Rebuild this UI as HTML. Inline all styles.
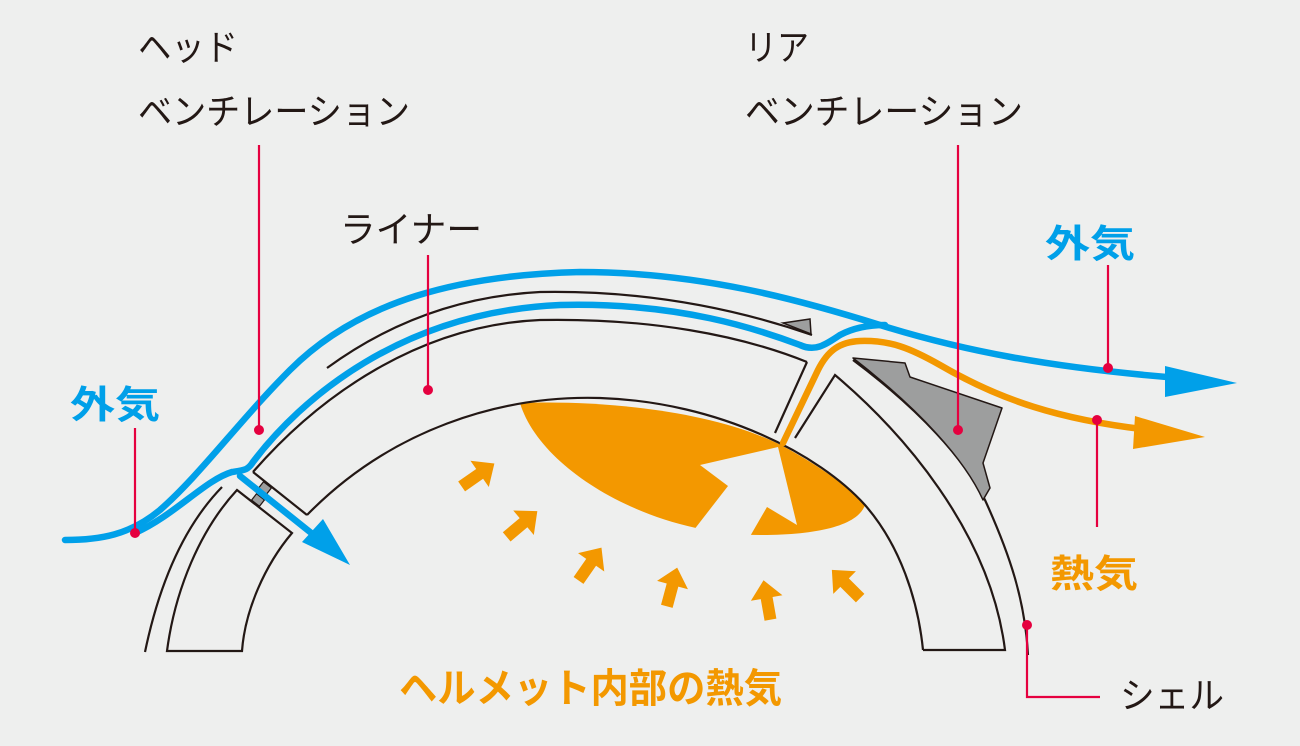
<!DOCTYPE html>
<html><head><meta charset="utf-8"><style>
html,body{margin:0;padding:0;background:#eeefee;}
svg{display:block;}
text{font-family:"Liberation Sans","Noto Sans CJK JP",sans-serif;}
</style></head><body>
<svg width="1300" height="746" viewBox="0 0 1300 746" xmlns="http://www.w3.org/2000/svg">
<rect width="1300" height="746" fill="#eeefee"/>

<path d="M520,403 C600,400 720,410 790,450 C825,470 850,488 865,505 C858,525 820,535 760,535 C650,535 540,470 520,403 Z" fill="#f39800"/>
<polygon points="778,447 700,465 728,486 690,535 745,545 767,507 797,525" fill="#eeefee"/>

<g fill="none" stroke="#231815" stroke-width="2.2">
<path d="M145,652 C160,580 185,525 222,487"/>
<path d="M327,368 C390,322 460,296 540,292 C650,290 740,310 812,335"/>
<path d="M253,472 C320,395 420,325 540,320 C650,318 740,335 807,362"/>
<path d="M253,472 L307,515"/>
<path d="M807,362 L775,433"/>
<path d="M307,515 C390,430 500,395 600,398 C720,402 820,455 865,505 C900,545 918,600 923,650"/>
<path d="M795,438 L835,375 C900,430 990,530 1005,650 L923,650"/>
<path d="M237,490 L292,533 C265,565 245,610 242,651 L167,651 C175,590 200,530 237,490 Z"/>
<path d="M853,360 C920,410 965,460 985,500 C1010,555 1025,600 1028,655"/>
</g>
<polygon points="783,323 810,319 811,334" fill="#9d9e9e" stroke="#231815" stroke-width="1.5"/>
<path d="M853,358 L905,363 L910,377 L1002,408 L983,463 L990,488 L983,500 C965,460 920,410 853,358 Z" fill="#9d9e9e" stroke="#231815" stroke-width="1.5" stroke-linejoin="round"/>
<rect x="260" y="484" width="10" height="8" fill="#9d9e9e" stroke="#231815" stroke-width="1.2" transform="rotate(38 265 488)"/>
<rect x="253" y="496" width="10" height="8" fill="#9d9e9e" stroke="#231815" stroke-width="1.2" transform="rotate(38 258 500)"/>

<g fill="none" stroke="#00a0e9" stroke-width="6.5" stroke-linecap="round" stroke-linejoin="round">
<path d="M65,540 C100,540 130,535 160,510 C200,475 240,420 290,370 C360,300 460,275 580,272 C700,272 800,300 880,325 C960,350 1050,368 1180,378"/>
<path d="M135,533 C175,515 205,480 232,472 C245,470 248,470 253,462 C300,400 400,312 560,305 C680,302 760,330 800,345 C815,352 825,345 840,335 C855,327 870,325 885,325"/>
<path d="M240,476 L320,540"/>
</g>
<polygon points="1165,366 1237,383 1165,397" fill="#00a0e9"/>
<polygon points="350,565 302,542 323,519" fill="#00a0e9"/>

<path d="M783,443 L818,370 C828,350 840,342 860,341 C890,340 910,348 940,365 C1000,400 1060,420 1150,430" fill="none" stroke="#f39800" stroke-width="6.5" stroke-linecap="round"/>
<polygon points="1135,416 1205,437 1133,449" fill="#f39800"/>

<g fill="#f39800">
<polygon points="-20,-6 2,-6 2,-16 20,0 2,16 2,6 -20,6" transform="translate(478,475) rotate(-35)"/>
<polygon points="-20,-6 2,-6 2,-16 20,0 2,16 2,6 -20,6" transform="translate(522,524) rotate(-40)"/>
<polygon points="-20,-6 2,-6 2,-16 20,0 2,16 2,6 -20,6" transform="translate(590,564) rotate(-55)"/>
<polygon points="-20,-6 2,-6 2,-16 20,0 2,16 2,6 -20,6" transform="translate(672,587) rotate(-75)"/>
<polygon points="-20,-6 2,-6 2,-16 20,0 2,16 2,6 -20,6" transform="translate(767,600) rotate(-100)"/>
<polygon points="-20,-6 2,-6 2,-16 20,0 2,16 2,6 -20,6" transform="translate(846,584) rotate(-135)"/>
</g>

<g stroke="#e5003f" stroke-width="2.2" fill="none">
<path d="M259,145 L259,430"/>
<path d="M428,255 L428,390"/>
<path d="M958,145 L958,430"/>
<path d="M135,428 L135,533"/>
<path d="M1108,265 L1108,368"/>
<path d="M1097,420 L1097,527"/>
<path d="M1027,625 L1027,697 L1100,697"/>
</g>
<g fill="#e5003f">
<circle cx="259" cy="430" r="5"/>
<circle cx="428" cy="390" r="5"/>
<circle cx="958" cy="430" r="5"/>
<circle cx="135" cy="533" r="5"/>
<circle cx="1108" cy="368" r="5"/>
<circle cx="1097" cy="420" r="5"/>
<circle cx="1027" cy="625" r="5"/>
</g>

<g fill="#231815" font-size="36">
<text x="138" y="60" textLength="100" lengthAdjust="spacingAndGlyphs">ヘッド</text>
<text x="138" y="124" textLength="272" lengthAdjust="spacingAndGlyphs">ベンチレーション</text>
<text x="745" y="60" textLength="64" lengthAdjust="spacingAndGlyphs">リア</text>
<text x="745" y="124" textLength="278" lengthAdjust="spacingAndGlyphs">ベンチレーション</text>
<text x="340" y="242" textLength="142" lengthAdjust="spacingAndGlyphs">ライナー</text>
<text x="1120" y="708" textLength="104" lengthAdjust="spacingAndGlyphs">シェル</text>
</g>
<g font-weight="bold" font-size="38">
<text x="70" y="418" fill="#00a0e9" textLength="90" lengthAdjust="spacingAndGlyphs">外気</text>
<text x="1045" y="257" fill="#00a0e9" textLength="90" lengthAdjust="spacingAndGlyphs">外気</text>
<text x="1050" y="587" fill="#f39800" textLength="88" lengthAdjust="spacingAndGlyphs">熱気</text>
<text x="399" y="702" fill="#f39800" font-size="40" textLength="383" lengthAdjust="spacingAndGlyphs">ヘルメット内部の熱気</text>
</g>
</svg>
</body></html>
